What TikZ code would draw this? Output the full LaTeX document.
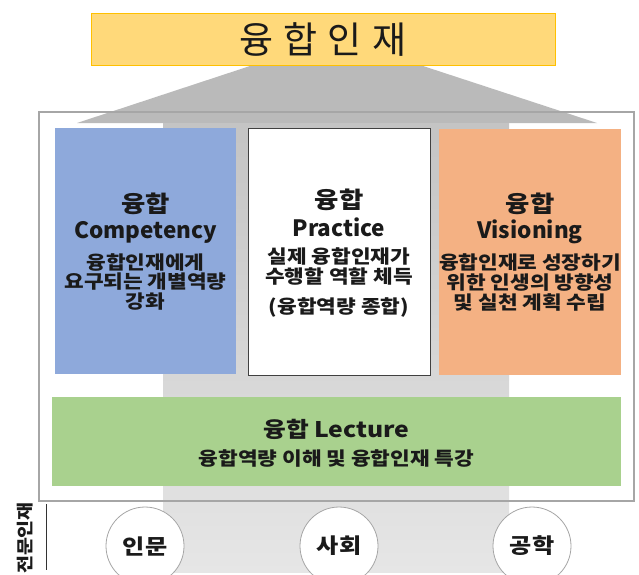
\documentclass[tikz,border=0pt]{standalone}
\usepackage{fontspec}
\setmainfont{Noto Sans CJK KR}
\newfontfamily\krwide{Noto Sans CJK KR}[FakeStretch=1.15]
\definecolor{cblue}{HTML}{8EA9DB}
\definecolor{corange}{HTML}{F4B183}
\definecolor{cgreen}{HTML}{A9D18E}
\definecolor{cyel}{HTML}{FFD97A}
\definecolor{cyelb}{HTML}{FFC000}
\definecolor{cwedge}{HTML}{BABABA}
\definecolor{ccoltop}{HTML}{C4C4C4}
\definecolor{ccolbot}{HTML}{E6E6E6}
\definecolor{cframe}{HTML}{A6A6A6}
\definecolor{ctext}{HTML}{1A1A1A}
\begin{document}
\begin{tikzpicture}[x=1pt,y=-1pt,
  panel/.style={rectangle,inner sep=0pt,minimum width=#1},
  hd/.style={font=\krwide\bfseries\fontsize{23}{23}\selectfont,text=ctext,inner sep=0pt},
  en/.style={font=\bfseries\fontsize{22.5}{22.5}\selectfont,text=ctext,inner sep=0pt},
  bd/.style={font=\krwide\bfseries\fontsize{18.6}{18.6}\selectfont,text=ctext,inner sep=0pt},
  field/.style={circle,draw=cframe,fill=white,line width=0.8pt,minimum size=78pt,inner sep=0pt,font=\krwide\bfseries\fontsize{21}{21}\selectfont,text=ctext}]
\clip (0,0) rectangle (639,574);
\fill[white] (0,0) rectangle (639,574);
% wedge and column
\fill[cwedge] (253,65) -- (420,65) -- (597,123) -- (77,123) -- cycle;
\shade[top color=ccoltop,bottom color=ccolbot] (163,123) rectangle (509,572);
% top box
\node[panel=464pt,minimum height=52pt,fill=cyel,draw=cyelb,line width=0.8pt,
  font=\fontsize{37}{37}\selectfont,text=ctext] (top) at (323,39)
  {융\hspace{10pt}합\hspace{10pt}인\hspace{10pt}재};
% frame
\node[panel=595pt,minimum height=389pt,draw=cframe,line width=1.2pt] (frame) at (336.5,306.5) {};
% panels
\node[panel=181pt,minimum height=246pt,fill=cblue] (comp) at (145.5,251) {};
\node[panel=182pt,minimum height=247pt,fill=white,draw=black!75,line width=0.8pt] (prac) at (339,251.5) {};
\node[panel=182pt,minimum height=246pt,fill=corange] (visi) at (530,252) {};
\node[panel=569pt,minimum height=89pt,fill=cgreen] (lect) at (336.5,441.5) {};
% competency text
\node[hd] (c1) at (145.5,204) {융합};
\node[en] (c2) at (145.5,232) {Competency};
\node[bd] (c3) at (145.5,262) {융합인재에게};
\node[bd] (c4) at (145.5,282) {요구되는 개별역량};
\node[bd] (c5) at (145.5,302) {강화};
% practice text
\node[hd] (p1) at (339,200) {융합};
\node[en] (p2) at (339,227) {Practice};
\node[bd] (p3) at (339,256) {실제 융합인재가};
\node[bd] (p4) at (339,276) {수행할 역할 체득};
\node[bd] (p5) at (339,307) {(융합역량 종합)};
% visioning text
\node[hd] (v1) at (530,204) {융합};
\node[en] (v2) at (530,232) {Visioning};
\node[bd] (v3) at (530,262) {융합인재로 성장하기};
\node[bd] (v4) at (530,282) {위한 인생의 방향성};
\node[bd] (v5) at (530,302) {및 실천 계획 수립};
% lecture text
\node[en,font=\krwide\bfseries\fontsize{21.5}{21.5}\selectfont] (l1) at (336.5,429) {융합 Lecture};
\node[bd] (l2) at (336.5,458) {융합역량 이해 및 융합인재 특강};
% bottom
\node[field] (f1) at (145,546) {인문};
\node[field] (f2) at (339,546) {사회};
\node[field] (f3) at (532,546) {공학};
\node[bd,rotate=90,font=\krwide\bfseries\fontsize{17}{17}\selectfont] (exp) at (25,538) {전문인재};
\coordinate (lt) at (46,504);
\coordinate (lb) at (46,570);
\draw[black!80,line width=0.9pt] (lt) -- (lb);
\end{tikzpicture}
\end{document}
